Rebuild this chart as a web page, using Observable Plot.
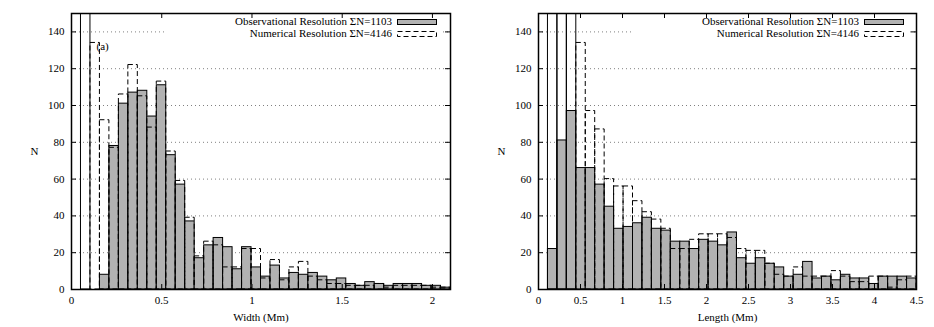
<!DOCTYPE html>
<html>
<head>
<meta charset="utf-8">
<script src="https://cdn.jsdelivr.net/npm/d3@7"></script>
<script src="https://cdn.jsdelivr.net/npm/@observablehq/plot@0.6"></script>
<style>
  body { margin: 0; background: #fff; }
  #wrap { display: flex; width: 934px; height: 327px; }
  .panel { position: relative; width: 467px; height: 327px; }
  .keybg { position: absolute; left: 166px; top: 27px; width: 277px; height: 12px; background: #fff; }
  .key { position: absolute; left: 166px; top: 15px; width: 278px; height: 26px;
         font-family: "Liberation Serif", "Times New Roman", serif; font-size: 11px; color: #000; }
  .key .lab { position: absolute; right: 52px; white-space: nowrap; line-height: 11px; }
  .key svg { position: absolute; left: 231px; }
</style>
</head>
<body>
<div id="wrap"></div>
<script>
// ---- data ----
const widthTicks = [0, 0.5, 1, 1.5, 2];
const lengthTicks = [0, 0.5, 1, 1.5, 2, 2.5, 3, 3.5, 4, 4.5];
const nTicks = [0, 20, 40, 60, 80, 100, 120, 140];
const widthRange = [0, 2.1];
const lengthRange = [0, 4.5];
const nRange = [0, 150];
const OFF = 400; // bins that run off the top of the chart

// 40 bins over the width range
const obsWidth = [0, 0, 0, 8, 78, 101, 107, 108, 94, 111, 73, 57, 37, 17, 24, 28, 23, 11, 23, 12,
                  7, 13, 6, 9, 8, 9, 7, 5, 6, 3, 2, 4, 3, 2, 3, 3, 3, 2, 2, 1];
const numWidth = [0, OFF, 134, 92, 77, 106, 122, 105, 88, 113, 75, 59, 39, 18, 26, 24, 12, 12, 22, 22,
                  6, 16, 5, 12, 15, 7, 5, 3, 3, 2, 2, 2, 3, 1, 2, 2, 2, 2, 1, 1];
// 40 bins over the length range
const obsLength = [0, 22, 81, 97, 66, 66, 57, 45, 33, 34, 36, 39, 33, 32, 26, 26, 22, 27, 26, 24,
                   31, 17, 14, 17, 14, 12, 7, 8, 15, 6, 7, 5, 8, 6, 6, 3, 7, 7, 7, 6];
const numLength = [0, OFF, OFF, OFF, 134, 97, 87, 60, 56, 56, 48, 42, 38, 33, 22, 22, 27, 30, 30, 30,
                   28, 22, 21, 21, 14, 8, 7, 12, 7, 7, 7, 10, 7, 4, 4, 7, 7, 1, 5, 7];

const legendLabels = ["Observational Resolution \u03A3N=1103", "Numerical Resolution \u03A3N=4146"];
const axisLabels = ["Width (Mm)", "Length (Mm)"];
const yLabel = "N";
const panelTags = ["(a)", null];

function toBins(vals, range) {
  const n = vals.length, w = (range[1] - range[0]) / n;
  return vals.map((v, i) => ({x1: range[0] + i * w, x2: range[0] + (i + 1) * w, v})).filter(d => d.v > 0);
}

function panel({obs, num, xRange, xTicks, xLabel, tag, marginRight}) {
  const W = 467, H = 327, mL = 71, mT = 13, mB = 38;
  const innerW = W - mL - marginRight, innerH = H - mT - mB;
  const fmt = d => String(d);
  const numBins = toBins(num, xRange);
  const inRange = numBins.filter(d => d.v <= nRange[1]);
  const offRange = numBins.filter(d => d.v > nRange[1]);
  const marks = [
    Plot.ruleY(nTicks.filter(d => d > 0), {stroke: "#808080", strokeDasharray: "1,3"}),
    Plot.rectY(toBins(obs, xRange), {x1: "x1", x2: "x2", y: "v", fill: "#b2b2b2", stroke: "black", strokeWidth: 1, clip: true}),
    Plot.rectY(inRange, {x1: "x1", x2: "x2", y: "v", fill: "none", stroke: "black", strokeWidth: 1, strokeDasharray: "5,3", clip: true}),
    Plot.rectY(offRange, {x1: "x1", x2: "x2", y: "v", fill: "none", stroke: "black", strokeWidth: 1, clip: true}),
    Plot.frame({stroke: "black", strokeWidth: 1.5}),
    Plot.tickX(xTicks, {x: d => d, insetTop: innerH - 5, stroke: "black"}),
    Plot.tickX(xTicks, {x: d => d, insetBottom: innerH - 5, stroke: "black"}),
    Plot.tickY(nTicks, {y: d => d, insetRight: innerW - 5, stroke: "black"}),
    Plot.tickY(nTicks, {y: d => d, insetLeft: innerW - 5, stroke: "black"}),
    Plot.axisX(xTicks, {tickSize: 0, tickPadding: 7, tickFormat: fmt, label: null}),
    Plot.axisY(nTicks, {tickSize: 0, tickPadding: 7, tickFormat: fmt, label: null}),
    Plot.text([xLabel], {frameAnchor: "bottom", dy: 31, fontSize: 11}),
    Plot.text([yLabel], {frameAnchor: "left", dx: -41, fontSize: 11})
  ];
  if (tag) marks.push(Plot.text([tag], {frameAnchor: "top-left", dx: 25, dy: 29, textAnchor: "start", fontSize: 11}));
  return Plot.plot({
    width: W, height: H, marginLeft: mL, marginRight, marginTop: mT, marginBottom: mB,
    style: {fontFamily: '"Liberation Serif", "Times New Roman", serif', fontSize: "11px", background: "white", color: "black"},
    x: {domain: xRange},
    y: {domain: nRange},
    marks
  });
}

function key() {
  const frag = document.createDocumentFragment();
  const bg = document.createElement("div");
  bg.className = "keybg";
  frag.appendChild(bg);
  const k = document.createElement("div");
  k.className = "key";
  k.innerHTML = `
    <div class="lab" style="top:1px">${legendLabels[0]}</div>
    <svg width="40" height="6" style="top:4px"><rect x="0.5" y="0.5" width="39" height="5" fill="#b2b2b2" stroke="#000"/></svg>
    <div class="lab" style="top:13px">${legendLabels[1]}</div>
    <svg width="40" height="6" style="top:16px"><rect x="0.5" y="0.5" width="39" height="5" fill="none" stroke="#000" stroke-dasharray="5,3"/></svg>`;
  frag.appendChild(k);
  return frag;
}

const wrap = document.getElementById("wrap");
const configs = [
  {obs: obsWidth, num: numWidth, xRange: widthRange, xTicks: widthTicks, xLabel: axisLabels[0], tag: panelTags[0], marginRight: 17},
  {obs: obsLength, num: numLength, xRange: lengthRange, xTicks: lengthTicks, xLabel: axisLabels[1], tag: panelTags[1], marginRight: 18}
];
for (const c of configs) {
  const p = document.createElement("div");
  p.className = "panel";
  p.appendChild(panel(c));
  p.appendChild(key());
  wrap.appendChild(p);
}
</script>
</body>
</html>
